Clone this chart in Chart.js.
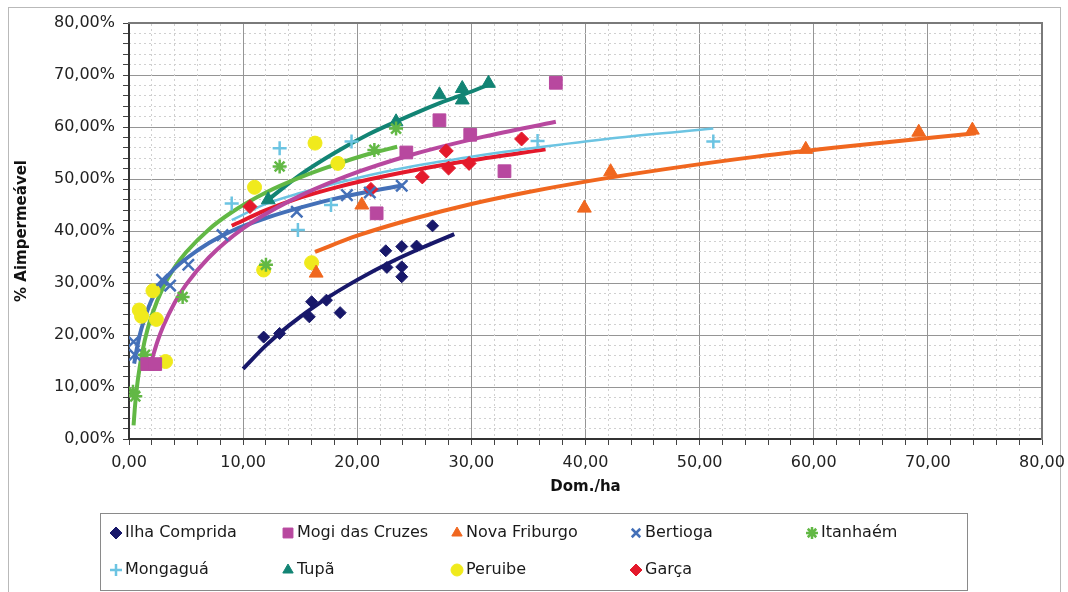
<!DOCTYPE html>
<html>
<head>
<meta charset="utf-8">
<title>% Aimpermeável x Dom./ha</title>
<script src="https://cdn.jsdelivr.net/npm/chart.js@4.4.1/dist/chart.umd.min.js"></script>
<style>
  body { margin: 0; background: #fff; }
  canvas { display: block; }
</style>
</head>
<body>
<canvas id="chart" width="1068" height="592"></canvas>
<script>
// measured points, [Dom./ha, % impermeável]
const ilhaComprida = [[11.8, 19.6], [13.2, 20.3], [15.8, 23.5], [16.0, 26.4], [17.3, 26.7], [18.5, 24.3],
  [22.5, 36.2], [22.6, 33.0], [23.9, 37.0], [23.9, 33.1], [23.9, 31.2], [25.2, 37.1], [26.6, 41.0]];
const mogiDasCruzes = [[1.6, 14.4], [2.3, 14.4], [21.7, 43.4], [24.3, 55.1], [27.2, 61.3], [29.9, 58.5],
  [32.9, 51.5], [37.4, 68.5]];
const novaFriburgo = [[16.4, 31.9], [20.4, 45.0], [39.9, 44.4], [42.2, 51.4], [59.3, 55.7], [69.2, 59.0], [73.9, 59.4]];
const bertioga = [[0.4, 18.7], [0.5, 16.2], [2.9, 30.6], [3.6, 29.5], [5.2, 33.5], [8.2, 39.2], [14.7, 43.7],
  [19.1, 46.9], [21.1, 47.4], [23.9, 48.7]];
const itanhaem = [[0.35, 9.1], [0.55, 8.2], [1.4, 16.2], [4.7, 27.3], [12.0, 33.5], [13.2, 52.4], [21.5, 55.6], [23.4, 59.7]];
const mongagua = [[9.0, 45.3], [13.2, 55.9], [14.8, 40.2], [17.7, 45.0], [19.5, 57.2], [35.8, 57.3], [51.2, 57.2]];
const tupa = [[12.2, 46.0], [23.4, 61.0], [27.2, 66.2], [29.2, 67.4], [29.2, 65.2], [31.5, 68.4]];
const peruibe = [[0.9, 24.8], [1.1, 23.6], [2.1, 28.5], [2.4, 23.0], [3.2, 14.9], [11.0, 48.4], [11.8, 32.5],
  [16.0, 33.9], [16.3, 56.9], [18.3, 53.0]];
const garca = [[10.6, 44.7], [21.2, 48.0], [25.7, 50.4], [27.8, 55.4], [28.0, 52.1], [29.8, 53.0], [34.4, 57.7]];

// trend curves
const ilhaTrend = [[10, 13.5], [12, 18.0], [14, 21.8], [17, 26.6], [20, 30.6], [23, 34.1], [26, 37.1], [28.5, 39.4]];
const mogiTrend = [[1.9, 14.5], [2.5, 18.8], [3, 21.7], [4, 26.2], [5, 29.7], [7, 34.9], [10, 40.5], [14, 45.7],
  [19, 50.5], [25, 54.8], [31, 58.1], [37.4, 61.0]];
const novaTrend = [[16.3, 36.0], [20, 39.1], [25, 42.4], [30, 45.2], [35, 47.5], [40, 49.5], [47, 51.9], [55, 54.3],
  [63, 56.3], [74.2, 58.8]];
const bertiogaTrend = [[0.45, 14.5], [0.7, 17.5], [1, 20.5], [1.5, 24.0], [2, 26.8], [3, 30.3], [4, 32.8], [5.2, 35.0],
  [7, 37.7], [9.1, 40.1], [12, 42.5], [15, 44.5], [19, 46.7], [24, 48.8]];
const itanhaemTrend = [[0.4, 2.6], [0.5, 5.6], [0.6, 8.0], [0.8, 11.8], [1.2, 17.1], [1.6, 20.9], [2, 23.8], [3, 29.2],
  [4, 33.0], [5, 35.9], [7, 40.3], [9, 43.6], [12, 47.4], [15, 50.3], [18, 52.7], [21, 54.8], [23.5, 56.2]];
const mongaguaTrend = [[9, 42.1], [12, 45.2], [15, 47.3], [20, 50.2], [25, 52.5], [30, 54.3], [36.6, 56.3], [43, 58.0], [51.2, 59.7]];
const tupaTrend = [[12.3, 46.2], [15, 50.8], [18, 55.0], [21, 58.6], [24, 61.6], [27, 64.4], [29.5, 66.4], [31.6, 68.2]];
const garcaTrend = [[9, 41.0], [12, 44.0], [15, 46.4], [18, 48.3], [21, 49.9], [25, 51.7], [30, 53.6], [36.5, 55.7]];

const xMin = 0, xMax = 80, yMin = 0, yMax = 80;

const series = [
  { name: "Ilha Comprida", pts: ilhaComprida, trend: ilhaTrend, color: "#18186a", style: "rectRot", r: 6, bw: 1, lw: 4 },
  { name: "Mogi das Cruzes", pts: mogiDasCruzes, trend: mogiTrend, color: "#b8489f", style: "rect", r: 9, bw: 1, lw: 4 },
  { name: "Nova Friburgo", pts: novaFriburgo, trend: novaTrend, color: "#f0671f", style: "triangle", r: 8, bw: 1, lw: 4 },
  { name: "Bertioga", pts: bertioga, trend: bertiogaTrend, color: "#4470b8", style: "crossRot", r: 8, bw: 2.5, lw: 4 },
  { name: "Itanhaém", pts: itanhaem, trend: itanhaemTrend, color: "#62b845", style: "star", r: 7, bw: 2.5, lw: 4 },
  { name: "Mongaguá", pts: mongagua, trend: mongaguaTrend, color: "#6cc4e2", style: "cross", r: 7, bw: 2.5, lw: 2.5 },
  { name: "Tupã", pts: tupa, trend: tupaTrend, color: "#128474", style: "triangle", r: 8, bw: 1, lw: 4 },
  { name: "Peruibe", pts: peruibe, trend: null, color: "#f0ea1c", style: "circle", r: 7, bw: 1, lw: 0 },
  { name: "Garça", pts: garca, trend: garcaTrend, color: "#e4192b", style: "rectRot", r: 7, bw: 1, lw: 4 }
];

const FONT = '"DejaVu Sans", sans-serif';
Chart.defaults.font.family = FONT;

const toXY = arr => arr.map(([x, y]) => ({ x, y }));
const fmt = v => v.toFixed(2).replace(".", ",");
const isMajor = v => Math.abs(v - Math.round(v / 10) * 10) < 1e-6;

const datasets = [];
series.forEach(s => {
  datasets.push({
    label: s.name,
    data: toXY(s.pts),
    showLine: false,
    pointStyle: s.style,
    pointRadius: s.r,
    pointHoverRadius: s.r,
    pointBorderWidth: s.bw,
    backgroundColor: s.color,
    borderColor: s.color,
    order: 0
  });
  if (s.trend) {
    datasets.push({
      label: s.name + " (tendência)",
      data: toXY(s.trend),
      showLine: true,
      pointRadius: 0,
      borderColor: s.color,
      borderWidth: s.lw,
      cubicInterpolationMode: "monotone",
      fill: false,
      order: 1
    });
  }
});

// outer frame + legend box drawn on the canvas
const frameAndLegend = {
  id: "frameAndLegend",
  beforeDraw(chart) {
    const ctx = chart.ctx;
    ctx.save();
    ctx.strokeStyle = "#b9b9b9";
    ctx.lineWidth = 1;
    ctx.strokeRect(8.5, 7.5, 1052, 600);
    ctx.restore();
  },
  afterDraw(chart) {
    const ctx = chart.ctx;
    const cols = [116, 288, 457, 636, 812];
    const rows = [533, 570];
    ctx.save();
    ctx.strokeStyle = "#8a8a8a";
    ctx.lineWidth = 1;
    ctx.strokeRect(100.5, 513.5, 867, 77);
    ctx.font = "16px " + FONT;
    ctx.textBaseline = "middle";
    series.forEach((s, i) => {
      const x = cols[i % 5], y = rows[Math.floor(i / 5)];
      ctx.fillStyle = s.color;
      ctx.strokeStyle = s.color;
      ctx.lineWidth = s.bw;
      Chart.helpers.drawPoint(ctx, { pointStyle: s.style, radius: s.style === "rect" ? 7 : 6, borderWidth: s.bw, rotation: 0 }, x, y);
      ctx.fillStyle = "#1a1a1a";
      ctx.fillText(s.name, x + 9, y);
    });
    ctx.restore();
  }
};

new Chart(document.getElementById("chart"), {
  type: "scatter",
  data: { datasets },
  options: {
    responsive: false,
    animation: false,
    devicePixelRatio: 1,
    layout: { padding: { top: 23, right: 26, bottom: 92, left: 0 } },
    plugins: { legend: { display: false }, tooltip: { enabled: false } },
    scales: {
      x: {
        type: "linear",
        position: "bottom",
        min: xMin,
        max: xMax,
        ticks: {
          stepSize: 2,
          autoSkip: false,
          maxRotation: 0,
          padding: 8,
          color: "#222",
          font: { size: 16 },
          callback: v => (isMajor(v) ? fmt(v) : "")
        },
        grid: {
          color: c => (c.tick && isMajor(c.tick.value) ? "#959595" : "rgba(0,0,0,0)"),
          tickColor: "#444",
          tickLength: 6
        },
        border: { color: "#333", width: 2 },
        title: {
          display: true,
          text: "Dom./ha",
          color: "#111",
          font: { size: 15, weight: "bold" },
          padding: { top: 0, bottom: 4 }
        },
        afterFit: s => { s.height = 61; s.paddingRight = 0; s.paddingLeft = 0; }
      },
      y: {
        type: "linear",
        position: "left",
        min: yMin,
        max: yMax,
        ticks: {
          stepSize: 2,
          autoSkip: false,
          padding: 8,
          color: "#222",
          font: { size: 16 },
          callback: v => (isMajor(v) ? fmt(v) + "%" : "")
        },
        grid: {
          color: c => (c.tick && isMajor(c.tick.value) ? "#959595" : "rgba(0,0,0,0)"),
          tickColor: "#444",
          tickLength: 6
        },
        border: { color: "#333", width: 2 },
        title: {
          display: true,
          text: "% Aimpermeável",
          color: "#111",
          font: { size: 15, weight: "bold" },
          padding: { top: 13, bottom: 0 }
        },
        afterFit: s => { s.width = 129; }
      },
      // minor dashed grid, also gives the top / right frame
      x2: {
        type: "linear",
        position: "top",
        min: xMin,
        max: xMax,
        ticks: { display: false, stepSize: 2 },
        grid: {
          drawTicks: false,
          color: c => (c.tick && isMajor(c.tick.value) ? "rgba(0,0,0,0)" : "#d0d0d0")
        },
        border: { display: true, color: "#7a7a7a", width: 2, dash: [2, 3] },
        afterFit: s => { s.height = 0; s.paddingRight = 0; s.paddingLeft = 0; }
      },
      y2: {
        type: "linear",
        position: "right",
        min: yMin,
        max: yMax,
        ticks: { display: false, stepSize: 2 },
        grid: {
          drawTicks: false,
          color: c => (c.tick && isMajor(c.tick.value) ? "rgba(0,0,0,0)" : "#d0d0d0")
        },
        border: { display: true, color: "#7a7a7a", width: 2, dash: [2, 3] },
        afterFit: s => { s.width = 0; }
      }
    }
  },
  plugins: [frameAndLegend]
});
</script>
</body>
</html>
